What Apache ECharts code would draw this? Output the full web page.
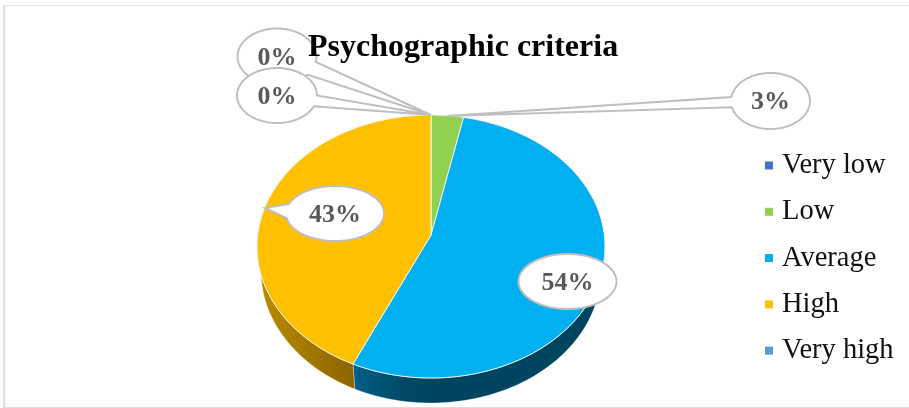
<!DOCTYPE html>
<html><head><meta charset="utf-8">
<script src="https://cdn.jsdelivr.net/npm/echarts@6/dist/echarts.min.js"></script>
<style>html,body{margin:0;padding:0;background:#fff}#c{width:909px;height:408px}</style>
</head><body><div id="c"></div>
<script>
var categories = ['Very low', 'Low', 'Average', 'High', 'Very high'];
var values = [0, 3, 54.4, 42.6, 0];
var colors = ['#4472C4', '#92D050', '#00B0F0', '#FFC000', '#5B9BD5'];
var titleText = 'Psychographic criteria';

// projection of the tilted disc
var DISC = {cx: 431, cy: 246.5, rx: 174, ry: 131.5, apexY: 235, lowCy: 271, lowRx: 170, lowRy: 132};
// callout layout; bases are angles on the callout ellipse, i points at the quoted category
var callouts = [
  {i: 0, cx: 277, cy: 56.5, rx: 39.5, ry: 28, a: 11, b: 40, tip: [431, 115]},
  {i: 4, cx: 277, cy: 95.5, rx: 40, ry: 27.5, a: 0, b: 23, tip: [431, 115]},
  {i: 1, cx: 770.5, cy: 101, rx: 39.5, ry: 28, a: 167, b: 188, tip: [447, 116]},
  {i: 3, cx: 335, cy: 213.5, rx: 49, ry: 27.5, a: 170, b: 200, tip: [265, 208]},
  {i: 2, cx: 567.5, cy: 281.5, rx: 49, ry: 27.5}
];

var total = values.reduce(function (a, b) { return a + b; }, 0);
function startOf(k) {
  var s = 0;
  for (var i = 0; i < k; i++) s += values[i];
  return s / total * 360;
}
function arc(cx, cy, rx, ry, t0, t1) {
  var pts = [], n = Math.max(2, Math.ceil(Math.abs(t1 - t0) / 1.5));
  for (var i = 0; i <= n; i++) {
    var t = (t0 + (t1 - t0) * i / n) * Math.PI / 180;
    pts.push([cx + rx * Math.sin(t), cy - ry * Math.cos(t)]);
  }
  return pts;
}
var wallFill = {
  2: new echarts.graphic.LinearGradient(0, 0, 1, 0, [
    {offset: 0, color: '#005f88'}, {offset: 0.2, color: '#004a66'}, {offset: 0.3, color: '#00455f'}, {offset: 1, color: '#00455f'}]),
  3: new echarts.graphic.LinearGradient(0, 0, 1, 0, [
    {offset: 0, color: '#bd8c00'}, {offset: 1, color: '#8a6500'}])
};

function sliceRender(k) {
  return function (params, api) {
    var v = api.value(0);
    if (!v) return {type: 'group', children: []};
    var t0 = startOf(k), t1 = t0 + v / total * 360, kids = [];
    var w0 = Math.max(t0, 92), w1 = Math.min(t1, 268);
    if (w1 > w0) {
      var up = arc(DISC.cx, DISC.cy, DISC.rx, DISC.ry, w0, w1);
      var low = arc(DISC.cx, DISC.lowCy, DISC.lowRx, DISC.lowRy, w1, w0);
      kids.push({type: 'polygon', z2: 1, shape: {points: up.concat(low)},
        style: {fill: wallFill[k] || colors[k], stroke: 'rgba(255,255,255,0.55)', lineWidth: 0.6}});
    }
    var top = arc(DISC.cx, DISC.cy, DISC.rx, DISC.ry, t0, t1);
    top.push([DISC.cx, DISC.apexY]);
    kids.push({type: 'polygon', z2: 2, shape: {points: top},
      style: {fill: colors[k], stroke: '#f4f4f0', lineWidth: 1}});
    return {type: 'group', children: kids};
  };
}
function calloutPoints(c) {
  var pts = [], a = c.tip ? c.b : 0, span = c.tip ? 360 - (c.b - c.a) : 360;
  for (var d = 0; d <= span; d += 3) {
    var t = (a + d) * Math.PI / 180;
    pts.push([c.cx + c.rx * Math.cos(t), c.cy + c.ry * Math.sin(t)]);
  }
  if (c.tip) {
    var e = c.a * Math.PI / 180;
    pts.push([c.cx + c.rx * Math.cos(e), c.cy + c.ry * Math.sin(e)]);
    pts.push(c.tip);
  }
  return pts;
}
function calloutRender(params, api) {
  var c = callouts[params.dataIndex];
  var pct = Math.round(api.value(0) / total * 100) + '%';
  return {type: 'group', children: [
    {type: 'polygon', shape: {points: calloutPoints(c)},
      style: {fill: '#fff', stroke: '#bfbfbf', lineWidth: 2}},
    {type: 'text', z2: 5, style: {x: c.cx, y: c.cy + 1.5, text: pct, align: 'center', verticalAlign: 'middle',
      font: 'bold 26px "Liberation Serif"', fill: '#595959'}}
  ]};
}

var series = categories.map(function (name, k) {
  return {type: 'custom', name: name, coordinateSystem: 'none', silent: true, z: 2,
    itemStyle: {color: colors[k]}, data: [values[k]], renderItem: sliceRender(k)};
});
series.push({type: 'custom', name: 'labels', coordinateSystem: 'none', silent: true, z: 3,
  data: callouts.map(function (c) { return values[c.i]; }), renderItem: calloutRender});

var chart = echarts.init(document.getElementById('c'), null, {renderer: 'canvas'});
chart.setOption({
  animation: false,
  backgroundColor: '#fff',
  title: {text: titleText, left: 303, top: 27, z: 8,
    textStyle: {fontFamily: 'Liberation Serif', fontWeight: 'bold', fontSize: 32, color: '#000'}},
  legend: {data: categories, orient: 'vertical', left: 760, top: 146, icon: 'rect', itemWidth: 8, itemHeight: 8,
    itemGap: 17.3, selectedMode: false,
    textStyle: {fontFamily: 'Liberation Serif', fontSize: 28.5, color: '#111', padding: [0, 0, 0, 4]}},
  graphic: [
    {type: 'rect', shape: {x: 3, y: 5, width: 2.5, height: 403}, style: {fill: '#e2e2e2'}, silent: true},
    {type: 'rect', shape: {x: 3, y: 5, width: 906, height: 1}, style: {fill: '#e2e2e2'}, silent: true},
    {type: 'rect', shape: {x: 3, y: 407, width: 906, height: 1}, style: {fill: '#dcdcdc'}, silent: true}
  ],
  series: series
});
</script></body></html>
